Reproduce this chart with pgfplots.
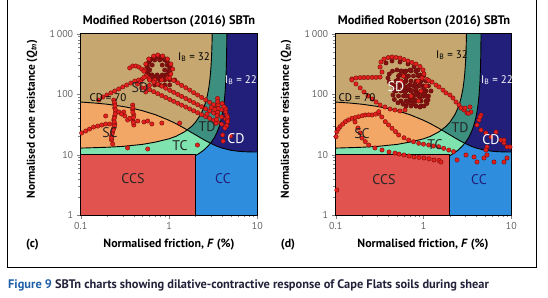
\documentclass[border=0pt]{standalone}
\usepackage{pgfplots}
\pgfplotsset{compat=1.18}
\usepackage{fontspec}
\setmainfont{PT Sans}
\definecolor{cdnavy}{HTML}{221F7A}
\definecolor{tdteal}{HTML}{3D8F80}
\definecolor{sdtan}{HTML}{C6A770}
\definecolor{ccblue}{HTML}{2E8EDD}
\definecolor{tcmint}{HTML}{7EE3AE}
\definecolor{scorange}{HTML}{F2A766}
\definecolor{ccsred}{HTML}{E0534E}
\definecolor{ptred}{HTML}{E4201C}
\definecolor{ptedge}{HTML}{6E0A0A}
\definecolor{ptdark}{HTML}{801212}
\definecolor{figblue}{HTML}{1F5FA8}
\definecolor{captext}{HTML}{22223A}
\newcommand{\regions}{%
\addplot[fill=cdnavy, draw=none] coordinates {(0.1,1) (10,1) (10,1000) (0.1,1000)} -- cycle;
\addplot[fill=tdteal, draw=none] coordinates {(0.1,1) (0.1,1000) (4.52,1000) (4.5,540) (4.48,375) (4.45,257) (4.4,169) (4.35,126) (4.3,100) (4.2,71) (4.1,55.1) (4.0,45) (3.9,38) (3.8,32.9) (3.65,27.4) (3.5,23.5) (3.25,18.9) (3.0,15.9) (2.75,13.7) (2.5,12) (2.2,10.47) (2.0,9.64) (2.0,1)} -- cycle;
\addplot[fill=sdtan, draw=none] coordinates {(0.1,12.81) (0.1,1000) (3.086,1000) (3.07,705) (3.05,517) (3.02,369) (3.0,310) (2.95,221) (2.9,172) (2.85,141) (2.8,119) (2.7,91.2) (2.6,73.8) (2.5,62) (2.3,47) (2.0,34.4) (1.8,29.2) (1.5,23.85) (1.2,20.1) (1.0,18.24) (0.7,16.1) (0.5,14.76) (0.3,13.68) (0.2,13.23)} -- cycle;
\addplot[fill=ccblue, draw=none] coordinates {(0.1,1) (0.1,74.2) (0.15,71.1) (0.2,68.2) (0.3,62.7) (0.4,57.8) (0.5,53.3) (0.7,45.8) (1,37.0) (1.2,32.5) (1.5,27.2) (1.6,25.7) (2,21.2) (2.5,17.5) (2.95,15.4) (3.5,13.74) (4,12.8) (5,11.8) (6,11.38) (7,11.18) (8,11.09) (10,11.02) (10,1)} -- cycle;
\addplot[fill=tcmint, draw=none] coordinates {(0.1,1) (0.1,74.2) (0.15,71.1) (0.2,68.2) (0.3,62.7) (0.4,57.8) (0.5,53.3) (0.7,45.8) (1,37.0) (1.2,32.5) (1.5,27.2) (1.6,25.7) (2,21.2) (2.5,17.5) (2.95,15.4) (2.75,13.7) (2.5,12) (2.2,10.47) (2.0,9.64) (2.0,1)} -- cycle;
\addplot[fill=scorange, draw=none] coordinates {(0.1,74.2) (0.15,71.1) (0.2,68.2) (0.3,62.7) (0.4,57.8) (0.5,53.3) (0.7,45.8) (1,37.0) (1.2,32.5) (1.5,27.2) (1.61,25.6) (1.5,23.85) (1.2,20.1) (1.0,18.24) (0.7,16.1) (0.5,14.76) (0.3,13.68) (0.2,13.23) (0.1,12.81)} -- cycle;
\addplot[fill=ccsred, draw=black, line width=0.9pt] coordinates {(0.1,1) (0.1,10) (2,10) (2,1)} -- cycle;
\addplot[black, line width=0.9pt] coordinates {(0.1,74.2) (0.15,71.1) (0.2,68.2) (0.3,62.7) (0.4,57.8) (0.5,53.3) (0.7,45.8) (1,37.0) (1.2,32.5) (1.5,27.2) (1.6,25.7) (2,21.2) (2.5,17.5) (2.95,15.4) (3.5,13.74) (4,12.8) (5,11.8) (6,11.38) (7,11.18) (8,11.09) (10,11.02)};
\addplot[black, line width=0.9pt] coordinates {(0.1,12.81) (0.2,13.23) (0.3,13.68) (0.5,14.76) (0.7,16.1) (1.0,18.24) (1.2,20.1) (1.5,23.85) (1.8,29.2) (2.0,34.4) (2.3,47) (2.5,62) (2.6,73.8) (2.7,91.2) (2.8,119) (2.85,141) (2.9,172) (2.95,221) (3.0,310) (3.02,369) (3.05,517) (3.07,705) (3.086,1000)};
\addplot[black, line width=0.9pt] coordinates {(2.0,9.64) (2.2,10.47) (2.5,12) (2.75,13.7) (3.0,15.9) (3.25,18.9) (3.5,23.5) (3.65,27.4) (3.8,32.9) (3.9,38) (4.0,45) (4.1,55.1) (4.2,71) (4.3,100) (4.35,126) (4.4,169) (4.45,257) (4.48,375) (4.5,540) (4.52,1000)};
}
\newcommand{\axopts}{}
\begin{document}
\begin{tikzpicture}
\path[use as bounding box] (0pt,0pt) rectangle (548pt,297pt);
% ---------- panel (c)
\begin{axis}[xmode=log, ymode=log, scale only axis, height=181.2pt, width=176.6pt,
  at={(80.7pt,82pt)}, anchor=south west,
  xmin=0.1, xmax=10, ymin=1, ymax=1000, axis on top,
  xtick={0.1,1,10}, xticklabels={0.1,1,10},
  ytick={1,10,100,1000}, yticklabels={1,10,100,1\,000},
  minor xtick={0.2,0.3,0.4,0.5,0.6,0.7,0.8,0.9,2,3,4,5,6,7,8,9},
  minor ytick={2,3,4,5,6,7,8,9,20,30,40,50,60,70,80,90,200,300,400,500,600,700,800,900},
  tick pos=left, tick align=outside, major tick length=4pt, minor tick length=2.5pt,
  tick label style={font=\fontsize{10}{11}\selectfont, text=black!60},
  axis line style={line width=0.6pt}]
\regions
\addplot[only marks, mark=*, mark size=2.2pt, mark options={fill=ptdark, draw=ptedge, line width=0.35pt}] coordinates {
(0.605,368) (0.689,368) (0.785,368) (0.894,368) (0.567,304) (0.645,304) (0.838,304) (0.954,304)
(0.531,252) (0.605,252) (0.894,252) (1.018,252) (0.567,208) (0.645,208) (0.735,208) (0.838,208) (0.954,208)
(0.605,172) (0.689,172) (0.785,172) (0.894,172) (1.018,172) (1.16,172) (0.689,142) (0.785,142) (0.894,142) (1.018,142)
(0.574,272) (0.59,341) (0.637,383) (0.726,413) (0.828,397) (0.918,368) (0.993,316) (1.02,272) (0.993,233) (0.918,208) (0.81,193) (0.705,193) (0.621,208) (0.574,233)
(0.56,300) (0.61,362) (0.68,405) (0.78,420) (0.88,390) (0.96,340) (1.03,290) (1.02,245) (0.95,205) (0.86,188) (0.75,185) (0.65,195) (0.58,210) (0.55,245)};
\addplot[only marks, mark=*, mark size=2.2pt, mark options={fill=ptred, draw=ptedge, line width=0.35pt}] coordinates {
(0.531,252) (0.546,316) (0.59,383) (0.671,429) (0.745,446) (0.849,429) (0.96,383) (1.05,316) (1.1,261) (1.05,216) (0.96,185) (0.828,172) (0.69,172) (0.59,185)
(0.359,272) (0.388,293) (0.42,293) (0.454,282) (0.491,261) (0.52,240)
(0.5,179) (0.454,172) (0.41,165) (0.37,153) (0.332,142) (0.30,132) (0.27,122) (0.243,113) (0.22,105) (0.198,97) (0.178,90) (0.16,80)
(0.55,200) (0.52,190)
(0.237,80) (0.243,69) (0.243,59) (0.25,50.7) (0.243,43.6) (0.237,37.4) (0.243,32.1) (0.237,27.6) (0.23,23.7) (0.224,20.3) (0.224,17.4) (0.23,15.0)
(0.24,74) (0.245,64) (0.247,55) (0.246,47) (0.24,40) (0.24,34.7) (0.24,29.8) (0.233,25.6) (0.227,22) (0.224,18.8)
(0.388,66.3) (0.388,54.8) (0.4,45.3) (0.388,37.4) (0.4,30.9) (0.39,60) (0.39,50) (0.395,41) (0.395,34)
(0.27,50.7) (0.316,43.6) (0.34,37.4) (0.443,36) (0.52,34.7) (0.574,36) (0.64,32.1) (0.83,33.3) (1.32,33.3) (0.307,50.7) (0.192,43.6) (0.29,47) (0.36,40)
(0.1026,22.8) (0.114,24.6) (0.126,26.5) (0.14,28.6) (0.156,29.7) (0.173,30.9) (0.192,32.1) (0.213,32.1)
(0.34,12.9) (0.574,12.4) (2.1,14.4)
(4.05,21.1) (5.0,20.3) (4.1,16.7)
(1.02,185) (1.13,169) (1.255,154) (1.39,140) (1.55,128) (1.715,117) (1.9,106) (2.11,97) (2.344,88.5) (2.6,80.5) (2.89,73.4) (3.2,67) (3.55,61.1) (3.95,55.6) (4.38,50.7)
(0.605,172) (0.671,158.6) (0.745,147) (0.828,136) (0.918,126) (1.02,116) (1.13,107.5) (1.255,99.3) (1.39,92) (1.55,84.9) (1.715,78.7) (1.9,72.6) (2.11,67) (2.344,62.1) (2.6,57.3) (2.89,53.1) (3.2,49) (3.55,45.4) (3.95,42) (4.38,38.8) (4.6,37.4)
(0.545,127) (0.605,118) (0.671,110) (0.745,102) (0.828,94.8) (0.918,88.2) (1.02,82) (1.13,76.3) (1.255,71) (1.39,66) (1.55,61.4) (1.715,57.1) (1.9,53.1) (2.11,49.4) (2.344,45.9) (2.6,42.7) (2.89,39.7) (3.2,37) (3.55,34.4) (3.95,32) (4.38,29.8)
(3.55,85) (3.55,75) (3.6,66) (3.6,58) (3.55,50) (3.5,44) (3.45,38) (3.4,33) (4.38,57) (4.5,45) (4.6,35) (4.5,30) (4.3,27.5) (4.0,70) (4.2,62) (4.6,42) (3.0,60) (3.3,56) (2.7,47)
(0.44,147) (0.491,127) (0.545,109) (0.6,140) (0.48,160)};
\end{axis}
% ---------- panel (d)
\begin{axis}[xmode=log, ymode=log, scale only axis, height=181.2pt, width=175.6pt,
  at={(335.7pt,82pt)}, anchor=south west,
  xmin=0.1, xmax=10, ymin=1, ymax=1000, axis on top,
  xtick={0.1,1,10}, xticklabels={0.1,1,10},
  ytick={1,10,100,1000}, yticklabels={1,10,100,1\,000},
  minor xtick={0.2,0.3,0.4,0.5,0.6,0.7,0.8,0.9,2,3,4,5,6,7,8,9},
  minor ytick={2,3,4,5,6,7,8,9,20,30,40,50,60,70,80,90,200,300,400,500,600,700,800,900},
  tick pos=left, tick align=outside, major tick length=4pt, minor tick length=2.5pt,
  tick label style={font=\fontsize{10}{11}\selectfont, text=black!60},
  axis line style={line width=0.6pt}]
\regions
\addplot[only marks, mark=*, mark size=2.2pt, mark options={fill=ptdark, draw=ptedge, line width=0.35pt}] coordinates {
(0.554,242) (0.632,242) (0.721,242) (0.822,242)
(0.519,200) (0.592,200) (0.675,200) (0.769,200) (0.877,200) (1.0,200)
(0.486,165) (0.554,165) (0.632,165) (0.721,165) (0.822,165) (0.936,165) (1.068,165)
(0.455,137) (0.519,137) (0.592,137) (0.675,137) (0.769,137) (0.877,137) (1.0,137) (1.14,137)
(0.486,113) (0.554,113) (0.632,113) (0.721,113) (0.822,113) (0.936,113) (1.068,113) (1.217,113)
(0.519,93.4) (0.592,93.4) (0.675,93.4) (0.769,93.4) (0.877,93.4) (1.0,93.4) (1.14,93.4)
(0.554,77.1) (0.632,77.1) (0.721,77.1) (0.822,77.1) (0.936,77.1) (1.068,77.1)
(0.632,63.8) (0.721,63.8) (0.822,63.8) (0.936,63.8)
(0.961,172) (0.922,208) (0.822,239) (0.702,252) (0.6,239) (0.534,208) (0.512,172) (0.534,142) (0.6,123) (0.702,117) (0.822,123) (0.922,142)
(1.04,109) (1.005,127) (0.912,141.5) (0.80,148) (0.702,141.5) (0.637,127) (0.616,109) (0.637,93.4) (0.702,83.6) (0.80,80) (0.912,83.6) (1.005,93.4)
(0.759,97) (0.734,115) (0.666,131) (0.584,137) (0.512,131) (0.465,115) (0.449,97) (0.465,81.7) (0.512,72.1) (0.584,68.8) (0.666,72.1) (0.734,81.7)
(1.125,80) (1.093,91.6) (1.013,101) (0.912,105) (0.822,101) (0.761,91.6) (0.74,80) (0.761,70.2) (0.822,63.8) (0.912,61.4) (1.013,63.8) (1.093,70.2)
(0.632,185) (0.612,216) (0.562,241) (0.499,252) (0.443,241) (0.407,216) (0.394,185) (0.407,159) (0.443,143) (0.499,137) (0.562,143) (0.612,159)
(0.374,329) (0.438,355) (0.54,341) (0.666,316) (0.78,282) (0.866,252) (0.866,208)};
\addplot[only marks, mark=*, mark size=2.2pt, mark options={fill=ptred, draw=ptedge, line width=0.35pt}] coordinates {
(0.337,233) (0.32,282) (0.328,341) (0.355,383) (0.395,405) (0.438,413) (0.486,405) (0.54,397) (0.6,375) (0.666,355) (0.74,335) (0.822,316) (0.913,288) (0.987,252) (1.013,216) (0.961,185) (0.866,165)
(0.153,179) (0.17,186) (0.19,188) (0.21,189) (0.233,189) (0.26,190) (0.288,190) (0.32,192)
(0.153,172) (0.17,148) (0.19,127) (0.21,109) (0.233,93.4) (0.26,83.3) (0.288,74.3) (0.32,66.3) (0.364,61.4) (0.416,56.9) (0.473,54.8) (0.54,52.7) (0.616,54.8)
(0.101,19.8) (0.103,23.9) (0.112,29) (0.129,35.1) (0.153,39.9) (0.182,42.4) (0.217,45.3) (0.26,45.3) (0.309,48.3) (0.107,26.5) (0.12,32) (0.14,37.5) (0.167,41) (0.2,44) (0.238,45.5) (0.285,46.8)
(0.309,51.3) (0.367,35.1) (0.438,27.3) (0.522,21.1) (0.678,17.4) (0.882,15.4) (1.146,14.4) (1.49,13.5) (1.94,11.9) (0.335,42) (0.4,31) (0.48,24) (0.6,19) (0.77,16.3) (1.0,14.9) (1.3,13.9) (1.7,12.7) (2.2,11.2)
(0.166,34.7) (0.179,27.6) (0.19,22.8) (0.1995,18.8)
(0.217,16.4) (0.238,14.4) (0.28,12.9) (0.337,11.9) (0.405,11.04) (0.473,10.6) (0.527,10.2) (0.6,9.85) (0.684,9.5) (0.78,9.12) (0.889,9.0) (1.013,8.79) (1.155,8.5) (1.317,8.14) (1.5,8.0) (1.58,7.54)
(1.25,159) (1.39,142) (1.5,132) (1.667,117) (1.804,105) (2.0,97) (2.165,86.5) (2.343,74.3) (2.54,66.3) (2.673,59.1) (2.89,54.8) (3.127,48.9) (3.385,61.4) (3.47,50.7) (1.1,175) (1.15,168) (2.97,59) (3.27,48.3)
(4.52,45.3) (4.29,37.4) (4.07,30.9) (4.52,25.5) (5.14,22.8) (5.87,19.6) (6.69,23.7) (7.63,17.4) (8.25,15.6) (8.93,13.4) (4.4,42) (8.25,17.4) (9.67,13.4)
(2.41,8.14) (3.05,9.85) (3.76,9.12) (4.07,7.54) (4.88,8.79) (5.28,9.85) (6.35,7.54) (8.25,7.54) (8.93,8.79) (5.28,13.4) (5.14,11.9)
(0.103,2.59)
(0.554,165) (0.936,113) (0.721,93.4) (1.068,137) (0.592,200) (0.877,77.1)};
\end{axis}
% ---------- texts
\tikzset{rl/.style={font=\fontsize{14}{14}\selectfont, text=black!85}, sl/.style={font=\fontsize{11}{11}\selectfont}}
\node[font=\fontsize{12.4}{13}\selectfont\bfseries] at (169pt,276pt) {Modified Robertson (2016) SBTn};
\node[font=\fontsize{12.4}{13}\selectfont\bfseries] at (424pt,276pt) {Modified Robertson (2016) SBTn};
\node[rotate=90, font=\fontsize{11.4}{12}\selectfont\bfseries] at (32pt,178pt) {Normalised cone resistance (\textit{Q}\textsubscript{\textit{tn}})};
\node[rotate=90, font=\fontsize{11.4}{12}\selectfont\bfseries] at (286pt,178pt) {Normalised cone resistance (\textit{Q}\textsubscript{\textit{tn}})};
\node[font=\fontsize{11.9}{13}\selectfont\bfseries] at (169pt,52pt) {Normalised friction, \textit{F} (\%)};
\node[font=\fontsize{11.9}{13}\selectfont\bfseries] at (423pt,52pt) {Normalised friction, \textit{F} (\%)};
\node[font=\fontsize{11.9}{13}\selectfont\bfseries] at (32.5pt,52pt) {(c)};
\node[font=\fontsize{11.9}{13}\selectfont\bfseries] at (288pt,52pt) {(d)};
% region labels c
\node[sl] at (194pt,240pt) {I\textsubscript{B} = 32};
\node[sl, text=white] at (241pt,217pt) {I\textsubscript{B} = 22};
\node[rl] at (140pt,209pt) {SD};
\node[sl] at (108pt,199pt) {CD = 70};
\node[rl] at (110pt,164pt) {SC};
\node[rl] at (207pt,170pt) {TD};
\node[rl, text=white] at (236pt,158pt) {CD};
\node[rl] at (180pt,151pt) {TC};
\node[rl] at (133pt,118pt) {CCS};
\node[rl, text=cdnavy] at (223pt,118pt) {CC};
% region labels d
\node[sl] at (452pt,242pt) {I\textsubscript{B} = 32};
\node[sl, text=white] at (497pt,217pt) {I\textsubscript{B} = 22};
\node[rl, text=white] at (396pt,210pt) {SD};
\node[sl] at (357pt,199pt) {CD = 70};
\node[rl] at (362pt,163pt) {SC};
\node[rl] at (460pt,169pt) {TD};
\node[rl, text=white] at (491pt,157pt) {CD};
\node[rl] at (435pt,152pt) {TC};
\node[rl] at (384pt,117pt) {CCS};
\node[rl, text=cdnavy] at (479pt,117pt) {CC};
% frame and caption
\draw[line width=0.9pt] (7.3pt,300pt) -- (7.3pt,29.3pt) -- (536.2pt,29.3pt) -- (536.2pt,300pt);
\node[anchor=west, inner sep=0pt, font=\fontsize{12.4}{13}\selectfont\bfseries, text=captext] at (8pt,11.3pt) {\textcolor{figblue}{Figure 9} SBTn charts showing dilative-contractive response of Cape Flats soils during shear};
\end{tikzpicture}
\end{document}
